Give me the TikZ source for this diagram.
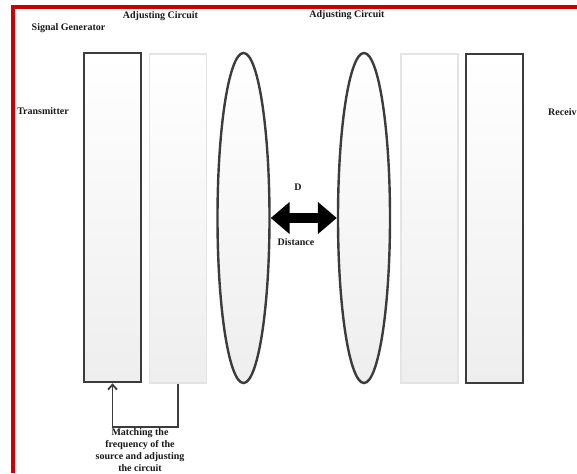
\documentclass[tikz,border=0pt]{standalone}
\usepackage{fontspec}
\setmainfont{Liberation Serif}
\usetikzlibrary{shapes.geometric,arrows.meta}
\definecolor{frame}{HTML}{CC0000}
\definecolor{dark}{HTML}{3C3C3C}
\definecolor{pale}{HTML}{E4E4E4}
\definecolor{bot}{HTML}{EEEEEE}
\tikzset{
  lbl/.style={font=\bfseries\fontsize{10}{11.8}\selectfont, text=black!90, inner sep=0pt, align=center},
  darkbox/.style={draw=dark, line width=2.6pt, top color=white, bottom color=bot, inner sep=0pt, minimum width=57pt, minimum height=329pt},
  palebox/.style={draw=pale, line width=1.4pt, top color=white, bottom color=bot, inner sep=0pt, minimum width=57pt, minimum height=329pt},
  lens/.style={ellipse, draw=dark, line width=2.4pt, top color=white, bottom color=bot, inner sep=0pt, minimum width=52pt, minimum height=330pt},
}
\begin{document}
\begin{tikzpicture}[x=1pt,y=-1pt]
\useasboundingbox (0,0) rectangle (577,473);
\fill[white] (0,0) rectangle (577,473);
\draw[frame, line width=4pt, line join=miter] (577,7) -- (13,7) -- (13,473);

\node[darkbox] (t) at (112.5,217.5) {};
\node[palebox] (c1) at (178,218.5) {};
\node[lens] (e1) at (243.5,218) {};
\node[lens] (e2) at (364,218) {};
\node[palebox] (c2) at (429.5,218.5) {};
\node[darkbox] (r) at (494.5,218.5) {};

\draw[black, line width=10pt, {Triangle[length=19pt,width=31pt]}-{Triangle[length=19pt,width=31pt]}] (e1.east) -- (e2.west);

\draw[dark, line width=1.8pt, -{Straight Barb[length=5pt,width=9pt]}] (c1.south) -- ++(0,43) -| (t.south);

\node[lbl] (sg) at (68.5,28.5) {Signal Generator};
\node[lbl] (ac1) at (160.5,16.5) {Adjusting Circuit};
\node[lbl] (ac2) at (347,15.5) {Adjusting Circuit};
\node[lbl] (tx) at (43,111.5) {Transmitter};
\node[lbl, anchor=west] (rx) at (548,112.5) {Receiv};
\node[lbl] (d) at (298,187) {D};
\node[lbl] (dist) at (296,242) {Distance};
\node[lbl] (match) at (140,450) {Matching the\\frequency of the\\source and adjusting\\the circuit};
\end{tikzpicture}
\end{document}
